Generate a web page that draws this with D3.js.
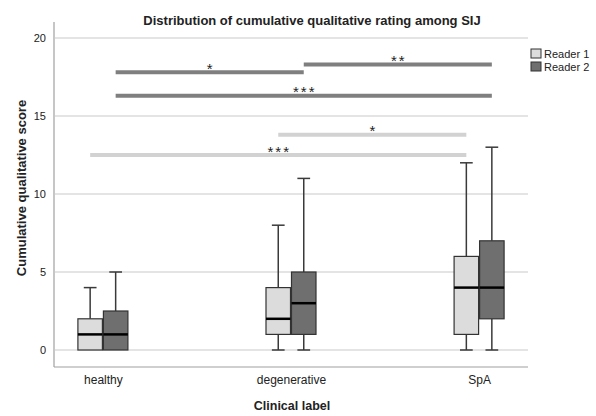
<!DOCTYPE html>
<html>
<head>
<meta charset="utf-8">
<script src="https://cdn.jsdelivr.net/npm/d3@7"></script>
<style>
  body { margin: 0; background: #fff; }
  text { font-family: "Liberation Sans", Arial, sans-serif; fill: #222; }
</style>
</head>
<body>
<div id="chart"></div>
<script>
// data
const groups = ["healthy", "degenerative", "SpA"];
const readers = ["Reader 1", "Reader 2"];
// [min, q1, median, q3, max] per group, per reader
const reader1Stats = [[0, 0, 1, 2, 4], [0, 1, 2, 4, 8], [0, 1, 4, 6, 12]];
const reader2Stats = [[0, 0, 1, 2.5, 5], [0, 1, 3, 5, 11], [0, 2, 4, 7, 13]];
const yTicks = [0, 5, 10, 15, 20];
// significance brackets: reader, from group, to group, level, label
const sigReader = ["Reader 2", "Reader 2", "Reader 2", "Reader 1", "Reader 1"];
const sigFrom = ["healthy", "degenerative", "healthy", "degenerative", "healthy"];
const sigTo = ["degenerative", "SpA", "SpA", "SpA", "SpA"];
const sigLevel = [17.8, 18.3, 16.3, 13.8, 12.5];
const sigLabel = ["*", "**", "***", "*", "***"];

const width = 596, height = 416;
const plotLeft = 54, plotRight = 528, plotTop = 22, plotBottom = 367;

const fills = {"Reader 1": "#dcdcdc", "Reader 2": "#6f6f6f"};
const barColors = {"Reader 1": "#d2d2d2", "Reader 2": "#7f7f7f"};

const svg = d3.select("#chart").append("svg")
    .attr("width", width)
    .attr("height", height);

let x = d3.scalePoint()
    .domain(groups)
    .range([plotLeft, plotRight])
    .padding(0.26);
let xInner = d3.scaleBand()
    .domain(readers)
    .range([-25.5, 25.5]);
let y = d3.scaleLinear()
    .domain([0, 20])
    .range([350, 38]);

// gridlines
svg.append("g").selectAll("line")
    .data(yTicks)
    .enter().append("line")
    .attr("x1", plotLeft + 1).attr("x2", plotRight)
    .attr("y1", d => y(d)).attr("y2", d => y(d))
    .attr("stroke", "#c9c9c9")
    .attr("stroke-width", 1.2);

// axes frame (left + bottom)
svg.append("line")
    .attr("x1", plotLeft).attr("x2", plotLeft)
    .attr("y1", plotTop).attr("y2", plotBottom)
    .attr("stroke", "#a0a0a0").attr("stroke-width", 1.2);
svg.append("line")
    .attr("x1", plotLeft).attr("x2", plotRight)
    .attr("y1", plotBottom).attr("y2", plotBottom)
    .attr("stroke", "#a0a0a0").attr("stroke-width", 1.2);

let yAxis = svg.append("g")
    .attr("transform", "translate(" + plotLeft + ",0)")
    .call(d3.axisLeft(y).tickValues(yTicks).tickSize(0).tickPadding(8));
yAxis.select(".domain").remove();
yAxis.selectAll("text")
    .style("font-size", "11px")
    .style("font-family", "Liberation Sans, Arial, sans-serif")
    .attr("fill", "#222");

let xAxis = svg.append("g")
    .attr("transform", "translate(0," + plotBottom + ")")
    .call(d3.axisBottom(x).tickSize(0).tickPadding(8));
xAxis.select(".domain").remove();
xAxis.selectAll("text")
    .style("font-size", "12px")
    .style("font-family", "Liberation Sans, Arial, sans-serif")
    .attr("fill", "#222");

// boxes
let boxData = [];
groups.forEach((g, i) => {
    boxData.push({group: g, reader: "Reader 1", s: reader1Stats[i]});
    boxData.push({group: g, reader: "Reader 2", s: reader2Stats[i]});
});
const bw = xInner.bandwidth();

let boxes = svg.append("g").selectAll("g")
    .data(boxData)
    .enter().append("g")
    .attr("transform", d => "translate(" + (x(d.group) + xInner(d.reader)) + ",0)");

// whiskers
boxes.append("line")
    .attr("x1", bw / 2).attr("x2", bw / 2)
    .attr("y1", d => y(d.s[3])).attr("y2", d => y(d.s[4]))
    .attr("stroke", "#3a3a3a").attr("stroke-width", 1.5);
boxes.append("line")
    .attr("x1", bw / 2).attr("x2", bw / 2)
    .attr("y1", d => y(d.s[1])).attr("y2", d => y(d.s[0]))
    .attr("stroke", "#3a3a3a").attr("stroke-width", 1.5);
boxes.append("line")
    .attr("x1", bw / 4).attr("x2", bw * 3 / 4)
    .attr("y1", d => y(d.s[4])).attr("y2", d => y(d.s[4]))
    .attr("stroke", "#3a3a3a").attr("stroke-width", 1.5);
boxes.filter(d => d.s[0] < d.s[1]).append("line")
    .attr("x1", bw / 4).attr("x2", bw * 3 / 4)
    .attr("y1", d => y(d.s[0])).attr("y2", d => y(d.s[0]))
    .attr("stroke", "#3a3a3a").attr("stroke-width", 1.5);

boxes.append("rect")
    .attr("x", 0.5)
    .attr("width", bw - 1)
    .attr("y", d => y(d.s[3]))
    .attr("height", d => y(d.s[1]) - y(d.s[3]))
    .attr("fill", d => fills[d.reader])
    .attr("stroke", "#333")
    .attr("stroke-width", 1.2);

boxes.append("line")
    .attr("x1", 0.5).attr("x2", bw - 0.5)
    .attr("y1", d => y(d.s[2])).attr("y2", d => y(d.s[2]))
    .attr("stroke", "#000").attr("stroke-width", 2.5);

// significance bars
let sig = sigLabel.map((lab, i) => ({
    reader: sigReader[i], from: sigFrom[i], to: sigTo[i], level: sigLevel[i], label: lab
}));
let cx = (g, r) => x(g) + xInner(r) + bw / 2;
let sigG = svg.append("g");
sigG.selectAll("line")
    .data(sig)
    .enter().append("line")
    .attr("x1", d => cx(d.from, d.reader))
    .attr("x2", d => cx(d.to, d.reader))
    .attr("y1", d => y(d.level)).attr("y2", d => y(d.level))
    .attr("stroke", d => barColors[d.reader])
    .attr("stroke-width", 4);
sigG.selectAll("text")
    .data(sig)
    .enter().append("text")
    .attr("x", d => (cx(d.from, d.reader) + cx(d.to, d.reader)) / 2 + 1)
    .attr("y", d => y(d.level) + 1.5)
    .attr("text-anchor", "middle")
    .style("font-size", "15px")
    .style("letter-spacing", "2px")
    .text(d => d.label);

// title and axis labels
svg.append("text")
    .attr("x", 312).attr("y", 25)
    .attr("text-anchor", "middle")
    .style("font-size", "13px")
    .style("font-weight", "bold")
    .text("Distribution of cumulative qualitative rating among SIJ");
svg.append("text")
    .attr("transform", "translate(26,188) rotate(-90)")
    .attr("text-anchor", "middle")
    .style("font-size", "13px")
    .style("font-weight", "bold")
    .text("Cumulative qualitative score");
svg.append("text")
    .attr("x", 292).attr("y", 410)
    .attr("text-anchor", "middle")
    .style("font-size", "12.5px")
    .style("font-weight", "bold")
    .text("Clinical label");

// legend
let legend = svg.append("g").attr("transform", "translate(531,49)");
let li = legend.selectAll("g")
    .data(readers)
    .enter().append("g")
    .attr("transform", (d, i) => "translate(0," + (i * 13) + ")");
li.append("rect")
    .attr("width", 10).attr("height", 9)
    .attr("fill", d => fills[d])
    .attr("stroke", "#333").attr("stroke-width", 1);
li.append("text")
    .attr("x", 13).attr("y", 8.5)
    .style("font-size", "11px")
    .text(d => d);
</script>
</body>
</html>
